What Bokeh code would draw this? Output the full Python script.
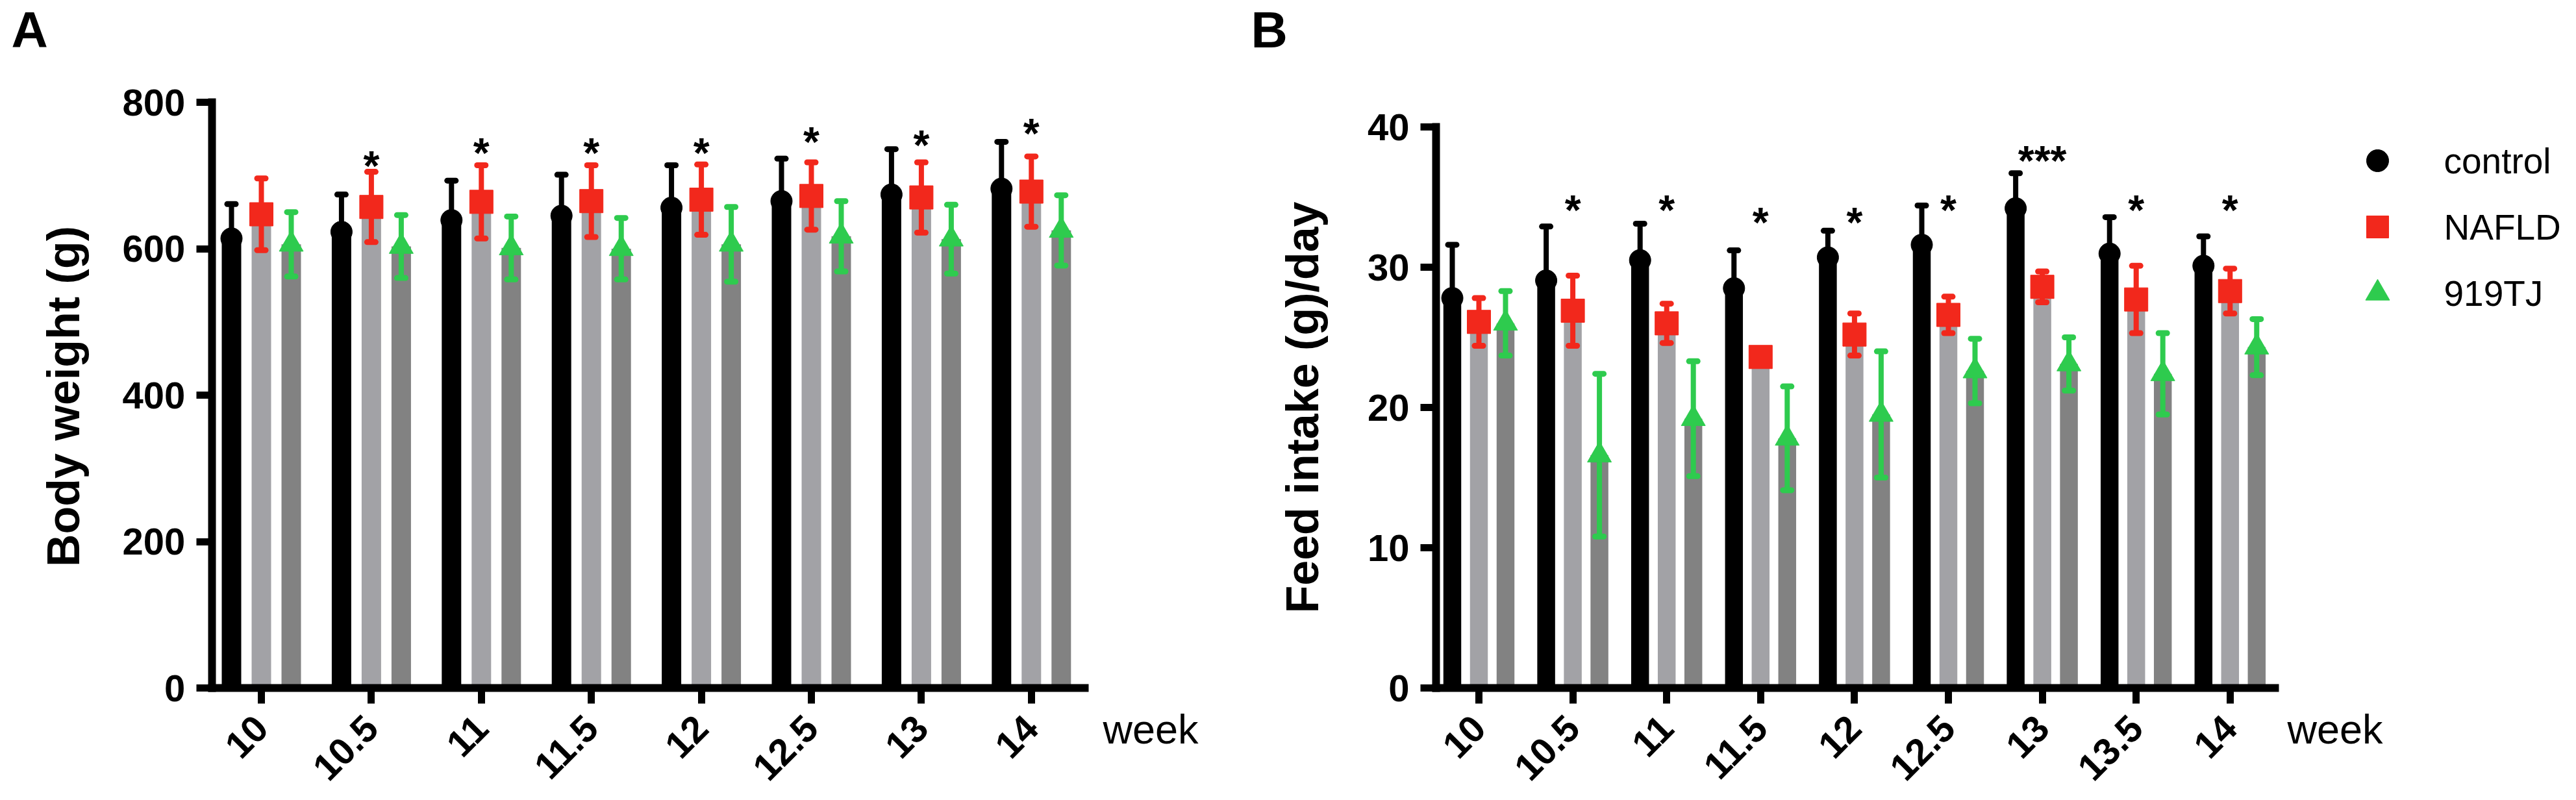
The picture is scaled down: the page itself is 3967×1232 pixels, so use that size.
import math
from bokeh.plotting import figure
from bokeh.models import FixedTicker, Range1d, LinearAxis, Grid
from bokeh.embed import file_html
from bokeh.resources import INLINE
from bokeh.core.properties import value

# ---------------- data ----------------
weeks_a = ["10", "10.5", "11", "11.5", "12", "12.5", "13", "14"]
bw_control = [614, 623, 639, 645, 656, 665, 674, 682]
bw_control_sd = [47, 51, 54, 56, 58, 58, 62, 64]
bw_nafld = [647, 657, 664, 665, 667, 672, 670, 678]
bw_nafld_sd = [49, 48, 50, 49, 48, 46, 48, 48]
bw_919tj = [606, 603, 601, 600, 606, 617, 613, 625]
bw_919tj_sd = [44, 43, 43, 42, 51, 48, 47, 48]
sig_a = ["", "*", "*", "*", "*", "*", "*", "*"]
sig_a_level = [None, 729, 746, 746, 746, 761, 757, 773]
yticks_a = [0, 200, 400, 600, 800]

weeks_b = ["10", "10.5", "11", "11.5", "12", "12.5", "13", "13.5", "14"]
fi_control = [27.8, 29.05, 30.5, 28.5, 30.7, 31.6, 34.2, 30.97, 30.1]
fi_control_sd = [3.8, 3.85, 2.6, 2.7, 1.9, 2.8, 2.5, 2.6, 2.1]
fi_nafld = [26.1, 26.9, 26.0, 23.6, 25.2, 26.6, 28.6, 27.7, 28.3]
fi_nafld_sd = [1.7, 2.5, 1.4, 0.3, 1.5, 1.3, 1.1, 2.4, 1.6]
fi_919tj = [26.0, 16.6, 19.2, 17.8, 19.5, 22.6, 23.1, 22.4, 24.3]
fi_919tj_sd = [2.3, 5.8, 4.1, 3.7, 4.5, 2.3, 1.9, 2.9, 2.0]
sig_b = ["", "*", "*", "*", "*", "*", "***", "*", "*"]
sig_b_level = [None, 34.9, 34.9, 34.0, 34.0, 34.9, 38.4, 34.9, 34.9]
yticks_b = [0, 10, 20, 30, 40]

group_names = ["control", "NAFLD", "919TJ"]

# ---------------- style / geometry (pixels) ----------------
FONT = "Liberation Sans"
BLACK = "#000000"
LIGHT = "#a2a2a6"
DARK = "#828282"
RED = "#f2281c"
GREEN = "#2ecb4e"
MARKERS = [("circle", 33, BLACK), ("square", 36, RED), ("triangle", 37, GREEN)]

W, H = 3950, 1216
Y0 = 1059                      # pixel row of value 0 (both panels)
GEO = {
    "a": dict(x0=402, sx=169.4, sy=902 / 800, off=0.2716, bw=0.177,
              lo=-0.45, hi=0.485),
    "b": dict(x0=2277, sx=144.6, sy=864 / 40, off=0.2835, bw=0.19,
              lo=-0.456, hi=0.478),
}


def xr(g):
    return Range1d(-g["x0"] / g["sx"], (W - g["x0"]) / g["sx"])


def yr(g):
    return Range1d(-(H - Y0) / g["sy"], Y0 / g["sy"])


p = figure(frame_width=W, frame_height=H, min_border=0,
           x_range=xr(GEO["a"]), y_range=yr(GEO["a"]),
           x_axis_location=None, y_axis_location=None, title=None,
           output_backend="svg", toolbar_location=None)
p.extra_x_ranges = {"b": xr(GEO["b"])}
p.extra_y_ranges = {"b": yr(GEO["b"])}
p.outline_line_color = None
p.background_fill_color = "white"
p.border_fill_color = "white"
for r in list(p.center):
    if isinstance(r, Grid):
        r.visible = False


def px_to_data(g, fx, fy):
    return (fx - g["x0"]) / g["sx"], (Y0 - fy) / g["sy"]


def style_axis(ax):
    ax.axis_line_width = 12
    ax.axis_line_cap = "square"
    ax.major_tick_line_width = 11
    ax.major_tick_out = 24
    ax.major_tick_in = 0
    ax.minor_tick_out = 0
    ax.minor_tick_in = 0
    ax.major_label_text_font = FONT
    ax.major_label_text_font_style = "bold"
    ax.major_label_text_font_size = "58px"
    ax.major_label_text_color = BLACK


def panel(key, weeks, ctrl, ctrl_sd, naf, naf_sd, tj, tj_sd, sig, sig_level,
          yticks, ylabel, letter, letter_px, title_px, week_dx, week_dy):
    g = GEO[key]
    rn_kw = {} if key == "a" else dict(x_range_name="b", y_range_name="b")
    n = len(weeks)
    xs = list(range(n))
    xc = [x - g["off"] for x in xs]
    xn = list(xs)
    xt = [x + g["off"] for x in xs]

    p.vbar(x=xc, top=ctrl, width=g["bw"], color=BLACK, line_color=None, **rn_kw)
    p.vbar(x=xn, top=naf, width=g["bw"], color=LIGHT, line_color=None, **rn_kw)
    p.vbar(x=xt, top=tj, width=g["bw"], color=DARK, line_color=None, **rn_kw)

    c_hi = [m + s for m, s in zip(ctrl, ctrl_sd)]
    n_hi = [m + s for m, s in zip(naf, naf_sd)]
    n_lo = [m - s for m, s in zip(naf, naf_sd)]
    t_hi = [m + s for m, s in zip(tj, tj_sd)]
    t_lo = [m - s for m, s in zip(tj, tj_sd)]
    lw = 8
    cap = dict(marker="dash", size=13, line_width=9, line_cap="round")
    p.segment(x0=xc, y0=ctrl, x1=xc, y1=c_hi, line_width=lw, line_color=BLACK, **rn_kw)
    p.scatter(x=xc, y=c_hi, line_color=BLACK, **cap, **rn_kw)
    p.segment(x0=xn, y0=n_lo, x1=xn, y1=n_hi, line_width=lw, line_color=RED, **rn_kw)
    p.scatter(x=xn + xn, y=n_hi + n_lo, line_color=RED, **cap, **rn_kw)
    p.segment(x0=xt, y0=t_lo, x1=xt, y1=t_hi, line_width=lw, line_color=GREEN, **rn_kw)
    p.scatter(x=xt + xt, y=t_hi + t_lo, line_color=GREEN, **cap, **rn_kw)

    for xx, yy, (mk, sz, col) in zip((xc, xn, xt), (ctrl, naf, tj), MARKERS):
        p.scatter(x=xx, y=yy, marker=mk, size=sz, color=col, **rn_kw)

    sx = [x for x, s in zip(xs, sig) if s]
    sy = [lv for lv, s in zip(sig_level, sig) if s]
    st = [s for s in sig if s]
    p.text(x=sx, y=sy, text=st, text_font=value(FONT), text_font_size="64px",
           text_font_style="bold", text_align="center", text_baseline="alphabetic",
           y_offset=18, text_color=BLACK, **rn_kw)

    # axes
    ya = LinearAxis(fixed_location=g["lo"], bounds=(0, yticks[-1]),
                    ticker=FixedTicker(ticks=yticks), **rn_kw)
    style_axis(ya)
    ya.major_label_standoff = 17
    p.add_layout(ya, "left")
    xa = LinearAxis(fixed_location=0, bounds=(g["lo"], n - 1 + g["hi"]),
                    ticker=FixedTicker(ticks=xs), **rn_kw)
    style_axis(xa)
    xa.major_label_overrides = {i: w for i, w in enumerate(weeks)}
    xa.major_label_orientation = math.pi / 4
    xa.major_label_standoff = 28
    p.add_layout(xa, "below")

    # y-axis title (rotated text)
    tx, ty = px_to_data(g, *title_px)
    p.text(x=[tx], y=[ty], text=[ylabel], angle=math.pi / 2,
           text_font=value(FONT), text_font_size="70px", text_font_style="bold",
           text_align="center", text_baseline="alphabetic", text_color=BLACK, **rn_kw)
    # panel letter
    lx, ly = px_to_data(g, *letter_px)
    p.text(x=[lx], y=[ly], text=[letter], text_font=value(FONT),
           text_font_size="78px", text_font_style="bold", text_align="left",
           text_baseline="alphabetic", text_color=BLACK, **rn_kw)
    # "week" at the right end of the x axis
    p.text(x=[n - 1 + g["hi"]], y=[0], text=["week"], x_offset=week_dx, y_offset=week_dy,
           text_font=value(FONT), text_font_size="63px", text_align="left",
           text_baseline="alphabetic", text_color=BLACK, **rn_kw)


panel("a", weeks_a, bw_control, bw_control_sd, bw_nafld, bw_nafld_sd,
      bw_919tj, bw_919tj_sd, sig_a, sig_a_level, yticks_a,
      "Body weight (g)", "A", (17, 45), (97, 610), 28, 63)

panel("b", weeks_b, fi_control, fi_control_sd, fi_nafld, fi_nafld_sd,
      fi_919tj, fi_919tj_sd, sig_b, sig_b_level, yticks_b,
      "Feed intake (g)/day", "B", (1926, 45), (2005, 627), 19, 63)

# legend (drawn in panel B's coordinates)
gb = GEO["b"]
leg_rows = [247, 349, 451]
for nm, fy, (mk, sz, col) in zip(group_names, leg_rows, MARKERS):
    mx, my = px_to_data(gb, 3661, fy)
    p.scatter(x=[mx], y=[my], marker=mk, size=34 if mk != "triangle" else 37,
              color=col, x_range_name="b", y_range_name="b")
    lx, ly = px_to_data(gb, 3763, fy)
    p.text(x=[lx], y=[ly], text=[nm], text_font=value(FONT), text_font_size="55px",
           text_align="left", text_baseline="middle", text_color=BLACK,
           x_range_name="b", y_range_name="b")

open("out.html", "w").write(file_html(p, INLINE))
